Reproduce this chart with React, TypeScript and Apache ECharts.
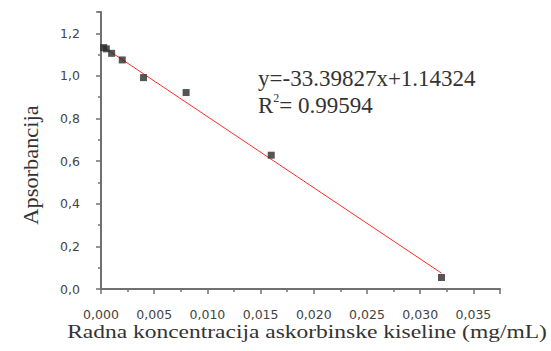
import React, { useEffect, useRef } from "react";
import * as echarts from "echarts";

const concentrations = [0.00025, 0.0005, 0.001, 0.002, 0.004, 0.008, 0.016, 0.032];
const absorbances = [1.133, 1.127, 1.106, 1.075, 0.992, 0.922, 0.628, 0.054];
const slope = -33.39827;
const intercept = 1.14324;
const fitRange = [0, 0.032];
const equationText = "y=-33.39827x+1.14324";
const r2Value = "= 0.99594";
const xTitle = "Radna koncentracija askorbinske kiseline (mg/mL)";
const yTitle = "Apsorbancija";

const SERIF = "'Liberation Serif', 'Times New Roman', serif";
const SANS = "'DejaVu Sans', sans-serif";

export default function App() {
  const ref = useRef<HTMLDivElement>(null);
  useEffect(() => {
    if (!ref.current) return;
    const chart = echarts.init(ref.current, null, { renderer: "svg" });
    const fitData = fitRange.map((x) => [x, intercept + slope * x]);
    const scatterData = concentrations.map((x, i) => [x, absorbances[i]]);
    const axisColor = "#707070";
    chart.setOption({
      animation: false,
      backgroundColor: "#ffffff",
      grid: { left: 101, right: 51, top: 12, bottom: 62, containLabel: false },
      xAxis: {
        type: "value",
        min: 0,
        max: 0.0375,
        interval: 0.005,
        axisLine: { show: true, onZero: false, lineStyle: { color: axisColor, width: 2 } },
        axisTick: { show: true, inside: false, length: 5, lineStyle: { color: axisColor, width: 1.5 } },
        minorTick: { show: true, splitNumber: 2, length: 3, lineStyle: { color: axisColor, width: 1.5 } },
        splitLine: { show: false },
        axisLabel: {
          fontFamily: SANS,
          fontSize: 12.5,
          color: "#444",
          margin: 19,
          showMaxLabel: false,
          formatter: (v: number) => {
            const k = Math.round(v / 0.005);
            if (Math.abs(k * 0.005 - v) > 1e-9) return "";
            return v.toFixed(3).replace(".", ",");
          },
        },
      },
      yAxis: {
        type: "value",
        min: 0,
        max: 1.3,
        interval: 0.2,
        axisLine: { show: true, onZero: false, lineStyle: { color: axisColor, width: 2 } },
        axisTick: { show: true, inside: false, length: 5, lineStyle: { color: axisColor, width: 1.5 } },
        minorTick: { show: true, splitNumber: 2, length: 3, lineStyle: { color: axisColor, width: 1.5 } },
        splitLine: { show: false },
        axisLabel: {
          fontFamily: SANS,
          fontSize: 12.5,
          color: "#444",
          margin: 21,
          showMaxLabel: false,
          formatter: (v: number) => {
            const k = Math.round(v / 0.2);
            if (Math.abs(k * 0.2 - v) > 1e-9) return "";
            return v.toFixed(1).replace(".", ",");
          },
        },
      },
      series: [
        {
          type: "line",
          data: fitData,
          symbol: "none",
          lineStyle: { color: "#ff2a2a", width: 1 },
          z: 2,
        },
        {
          type: "scatter",
          data: scatterData,
          symbol: "rect",
          symbolSize: 7,
          itemStyle: { color: "#2a2a2a" },
          z: 3,
        },
      ],
      graphic: [
        {
          type: "text",
          x: 31,
          y: 165,
          rotation: Math.PI / 2,
          scaleX: 1.12,
          style: {
            text: yTitle,
            font: `20px ${SERIF}`,
            fill: "#333",
            align: "center",
            verticalAlign: "middle",
          },
        },
        {
          type: "text",
          x: 307,
          y: 332,
          scaleX: 1.27,
          style: {
            text: xTitle,
            font: `18.5px ${SERIF}`,
            fill: "#333",
            align: "center",
            verticalAlign: "middle",
          },
        },
        {
          type: "text",
          x: 258,
          y: 78,
          style: {
            text: equationText,
            font: `23px ${SERIF}`,
            fill: "#333",
            align: "left",
            verticalAlign: "middle",
          },
        },
        {
          type: "text",
          x: 258,
          y: 105,
          style: {
            text: `{r|R}{s|2}{e|${r2Value}}`,
            align: "left",
            verticalAlign: "middle",
            rich: {
              r: { font: `23px ${SERIF}`, fill: "#333", lineHeight: 26 },
              s: { font: `12px ${SERIF}`, fill: "#333", verticalAlign: "top", lineHeight: 26 },
              e: { font: `23px ${SERIF}`, fill: "#333", lineHeight: 26 },
            },
          },
        },
      ],
    });
    return () => chart.dispose();
  }, []);
  return <div ref={ref} style={{ width: 551, height: 351, position: "fixed", left: 0, top: 0 }} />;
}
